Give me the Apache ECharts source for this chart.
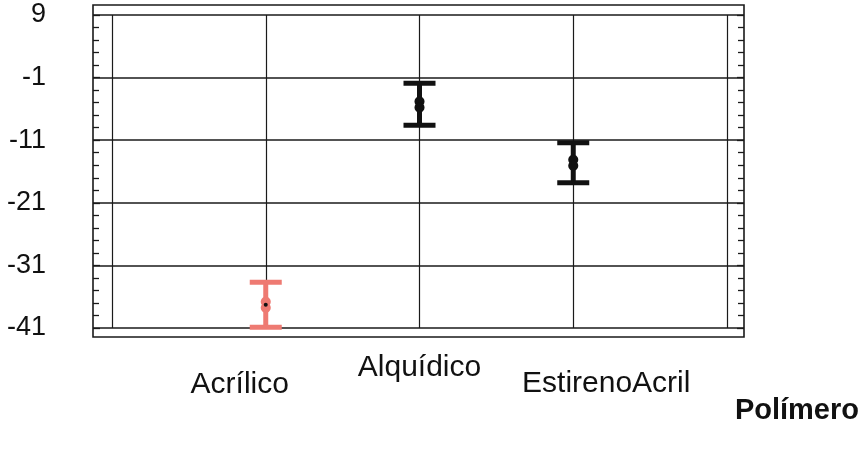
<!DOCTYPE html>
<html>
<head>
<meta charset="utf-8">
<style>
  html, body { margin: 0; padding: 0; background: #fff; }
  #chart { width: 866px; height: 450px; }
</style>
<script src="https://cdn.jsdelivr.net/npm/echarts@6/dist/echarts.min.js"></script>
</head>
<body>
<div id="chart"></div>
<script>
// Polymer types and their mean value with lower / upper interval limits
const categories = ['Acrílico', 'Alquídico', 'EstirenoAcril'];
const means = [-37.3, -5.3, -14.6];
const lower = [-40.9, -8.6, -17.8];
const upper = [-33.7, -1.9, -11.4];
const barColors = ['#ee7a72', '#111111', '#111111'];

// Value axis range and step of the labelled ticks
const yMin = -41;
const yMax = 9;
const yStep = 10;

const FONT = 'Liberation Sans, Arial, sans-serif';
const LINE = '#1a1a1a';

const chart = echarts.init(document.getElementById('chart'), null, { renderer: 'canvas' });

const intervalData = categories.map((c, i) => [i + 1, means[i], lower[i], upper[i]]);

function renderInterval(params, api) {
  const i = params.dataIndex;
  const x = api.value(0);
  const pMean = api.coord([x, api.value(1)]);
  const pLo = api.coord([x, api.value(2)]);
  const pHi = api.coord([x, api.value(3)]);
  const color = barColors[i];
  const capW = 32, capH = 5, stemW = 5;
  return {
    type: 'group',
    children: [
      { type: 'rect', shape: { x: pHi[0] - stemW / 2, y: pHi[1], width: stemW, height: pLo[1] - pHi[1] }, style: { fill: color } },
      { type: 'rect', shape: { x: pHi[0] - capW / 2, y: pHi[1] - capH / 2, width: capW, height: capH }, style: { fill: color } },
      { type: 'rect', shape: { x: pLo[0] - capW / 2, y: pLo[1] - capH / 2, width: capW, height: capH }, style: { fill: color } },
      // mean marker
      { type: 'ellipse', shape: { cx: pMean[0], cy: pMean[1] - 3, rx: 5, ry: 5 }, style: { fill: color } },
      { type: 'ellipse', shape: { cx: pMean[0], cy: pMean[1] + 3, rx: 5, ry: 5 }, style: { fill: color } },
      { type: 'circle', shape: { cx: pMean[0], cy: pMean[1], r: 2 }, style: { fill: '#111' } }
    ]
  };
}

const option = {
  backgroundColor: '#ffffff',
  animation: false,
  title: {
    text: 'Polímero',
    right: 2,
    top: 391,
    textStyle: { fontFamily: FONT, fontSize: 29, fontWeight: 'bold', color: '#111' }
  },
  grid: [
    // frame area: horizontal rules and side ticks
    { left: 93, right: 122, top: 15, bottom: 122 },
    // plotting area
    { left: 112, right: 139, top: 15, bottom: 122 },
    // outer box
    { left: 93, right: 122, top: 5, bottom: 113, show: true, borderColor: LINE, borderWidth: 1.6, backgroundColor: 'transparent' }
  ],
  xAxis: [
    { gridIndex: 0, type: 'value', min: 0, max: 1, show: false },
    {
      gridIndex: 1, type: 'value', min: 0, max: categories.length + 1, interval: 1,
      axisLine: { show: false }, axisTick: { show: false },
      splitLine: { show: true, lineStyle: { color: LINE, width: 1.2 } },
      axisLabel: {
        margin: 25,
        fontFamily: FONT, fontSize: 30, color: '#111',
        formatter: function (v) {
          const idx = Math.round(v) - 1;
          if (idx < 0 || idx >= categories.length) return '';
          return '{c' + idx + '|' + categories[idx] + '}';
        },
        rich: {
          c0: { fontFamily: FONT, fontSize: 30, color: '#111', padding: [17, 52, 0, 0] },
          c1: { fontFamily: FONT, fontSize: 30, color: '#111', padding: [0, 0, 0, 0] },
          c2: { fontFamily: FONT, fontSize: 30, color: '#111', padding: [16, 0, 0, 66] }
        }
      }
    },
    { gridIndex: 2, type: 'value', min: 0, max: 1, show: false }
  ],
  yAxis: [
    {
      gridIndex: 0, type: 'value', position: 'left', min: yMin, max: yMax, interval: yStep,
      axisLine: { show: false },
      axisTick: { show: true, inside: true, length: 7, lineStyle: { color: LINE, width: 1.3 } },
      minorTick: { show: true, splitNumber: 5, length: 6, lineStyle: { color: LINE, width: 1.3 } },
      splitLine: { show: true, lineStyle: { color: LINE, width: 1.5 } },
      axisLabel: { margin: 47, padding: [8, 0, 0, 0], fontFamily: FONT, fontSize: 27, color: '#111' }
    },
    {
      gridIndex: 0, type: 'value', position: 'right', min: yMin, max: yMax, interval: yStep,
      axisLine: { show: false },
      axisTick: { show: true, inside: true, length: 7, lineStyle: { color: LINE, width: 1.3 } },
      minorTick: { show: true, splitNumber: 5, length: 6, lineStyle: { color: LINE, width: 1.3 } },
      splitLine: { show: false },
      axisLabel: { show: false }
    },
    { gridIndex: 1, type: 'value', min: yMin, max: yMax, interval: yStep, show: false, splitLine: { show: false } },
    { gridIndex: 2, type: 'value', min: 0, max: 1, show: false }
  ],
  series: [
    {
      type: 'custom',
      xAxisIndex: 1,
      yAxisIndex: 2,
      renderItem: renderInterval,
      encode: { x: 0, y: [1, 2, 3] },
      data: intervalData,
      z: 10
    }
  ]
};

chart.setOption(option);
</script>
</body>
</html>
